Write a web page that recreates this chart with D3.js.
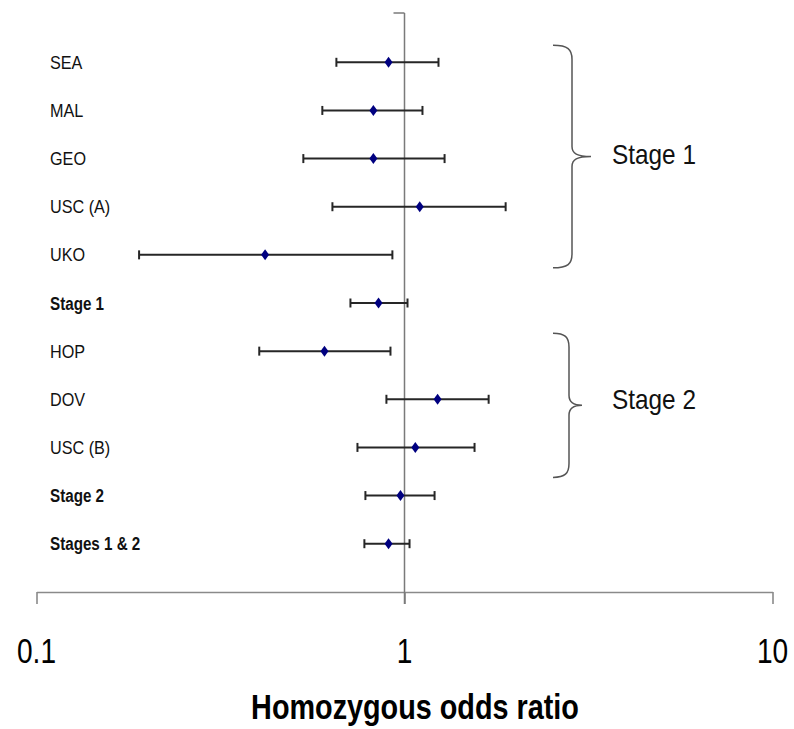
<!DOCTYPE html>
<html>
<head>
<meta charset="utf-8">
<script src="https://cdn.jsdelivr.net/npm/d3@7"></script>
<style>
  body { margin: 0; background: #fff; }
  svg { display: block; }
</style>
</head>
<body>
<script>
// forest plot data
const studies = ["SEA", "MAL", "GEO", "USC (A)", "UKO", "Stage 1", "HOP", "DOV", "USC (B)", "Stage 2", "Stages 1 & 2"];
const oddsRatio = [0.905, 0.823, 0.823, 1.10, 0.418, 0.850, 0.606, 1.23, 1.07, 0.975, 0.905];
const lowerCI = [0.653, 0.598, 0.531, 0.637, 0.190, 0.713, 0.403, 0.893, 0.745, 0.783, 0.778];
const upperCI = [1.237, 1.119, 1.285, 1.883, 0.927, 1.019, 0.916, 1.693, 1.550, 1.207, 1.032];
const pooled = ["Stage 1", "Stage 2", "Stages 1 & 2"];
const xTicks = [0.1, 1, 10];
const groupNames = ["Stage 1", "Stage 2"];
const groupFirst = ["SEA", "HOP"];
const groupLast = ["UKO", "USC (B)"];

const w = 794, h = 729;

const svg = d3.select("body")
  .append("svg")
  .attr("width", w)
  .attr("height", h);

// scales
const xScale = d3.scaleLog()
  .domain([0.1, 10])
  .range([36.5, 772.5]);

const yScale = d3.scalePoint()
  .domain(studies)
  .range([62.3, 543.7]);

const rows = studies.map((s, i) => ({name: s, or: oddsRatio[i], lo: lowerCI[i], hi: upperCI[i]}));

//* x axis, ticks pointing down
const axisY = 592;
const xAxis = d3.axisBottom(xScale)
  .tickValues(xTicks)
  .tickSize(12)
  .tickSizeOuter(0)
  .tickFormat("");

const gx = svg.append("g")
  .attr("transform", "translate(0," + axisY + ")")
  .call(xAxis);
gx.select(".domain").attr("stroke", "#8a8a8a").attr("stroke-width", 1.6);
gx.selectAll(".tick line").attr("stroke", "#8a8a8a").attr("stroke-width", 1.6);

// tick labels (condensed look)
svg.selectAll(".xlab")
  .data(xTicks)
  .enter()
  .append("text")
  .attr("class", "xlab")
  .attr("transform", d => "translate(" + xScale(d) + ",663) scale(0.78,1)")
  .attr("text-anchor", "middle")
  .style("font-family", "Liberation Sans, Arial, sans-serif")
  .style("font-size", "36px")
  .attr("fill", "#000")
  .text(d => d);

svg.append("text")
  .attr("transform", "translate(415,719) scale(0.8,1)")
  .attr("text-anchor", "middle")
  .style("font-family", "Liberation Sans, Arial, sans-serif")
  .style("font-size", "36px")
  .style("font-weight", "bold")
  .text("Homozygous odds ratio");

//* reference line at OR = 1
const x1 = xScale(1);
svg.append("line")
  .attr("x1", x1).attr("x2", x1)
  .attr("y1", 13).attr("y2", axisY + 12)
  .attr("stroke", "#7a7a7a")
  .attr("stroke-width", 1.5);
svg.append("line")
  .attr("x1", x1 - 11).attr("x2", x1)
  .attr("y1", 13).attr("y2", 13)
  .attr("stroke", "#7a7a7a")
  .attr("stroke-width", 1.5);

//* row labels
svg.selectAll(".rowlab")
  .data(rows)
  .enter()
  .append("text")
  .attr("class", "rowlab")
  .attr("transform", d => {
    const bold = pooled.includes(d.name);
    return "translate(50," + (yScale(d.name) + 6.5) + ") scale(" + (bold ? 0.8 : 0.9) + ",1)";
  })
  .style("font-family", "Liberation Sans, Arial, sans-serif")
  .style("font-size", d => pooled.includes(d.name) ? "19px" : "18px")
  .style("font-weight", d => pooled.includes(d.name) ? "bold" : "normal")
  .attr("fill", "#111")
  .text(d => d.name);

//* error bars
const bars = svg.selectAll(".ci")
  .data(rows)
  .enter()
  .append("g")
  .attr("class", "ci")
  .attr("stroke", "#262626")
  .attr("stroke-width", 2);

bars.append("line")
  .attr("x1", d => xScale(d.lo))
  .attr("x2", d => xScale(d.hi))
  .attr("y1", d => yScale(d.name))
  .attr("y2", d => yScale(d.name));
bars.append("line")
  .attr("x1", d => xScale(d.lo))
  .attr("x2", d => xScale(d.lo))
  .attr("y1", d => yScale(d.name) - 4.5)
  .attr("y2", d => yScale(d.name) + 4.5);
bars.append("line")
  .attr("x1", d => xScale(d.hi))
  .attr("x2", d => xScale(d.hi))
  .attr("y1", d => yScale(d.name) - 4.5)
  .attr("y2", d => yScale(d.name) + 4.5);

// diamonds
svg.selectAll(".pt")
  .data(rows)
  .enter()
  .append("path")
  .attr("class", "pt")
  .attr("d", d => {
    const cx = xScale(d.or), cy = yScale(d.name);
    return "M" + cx + "," + (cy - 5.5) + "L" + (cx + 4) + "," + cy + "L" + cx + "," + (cy + 5.5) + "L" + (cx - 4) + "," + cy + "Z";
  })
  .attr("fill", "#000080");

//* braces for the stages
const braceLayout = [
  {tip: 553, vert: 572, point: 591, padTop: 17, padBottom: 13, r: 14, textDy: 7},
  {tip: 553, vert: 569, point: 582, padTop: 18, padBottom: 30, r: 14, textDy: 4}
];

groupNames.forEach((g, i) => {
  const L = braceLayout[i];
  const top = yScale(groupFirst[i]) - L.padTop;
  const bottom = yScale(groupLast[i]) + L.padBottom;
  const mid = (top + bottom) / 2;
  const p = d3.path();
  p.moveTo(L.tip, top);
  p.bezierCurveTo(L.vert - 4, top, L.vert, top + 4, L.vert, top + L.r);
  p.lineTo(L.vert, mid - 10);
  p.bezierCurveTo(L.vert, mid - 3, L.vert + 5, mid, L.point, mid);
  p.bezierCurveTo(L.vert + 5, mid, L.vert, mid + 3, L.vert, mid + 10);
  p.lineTo(L.vert, bottom - L.r);
  p.bezierCurveTo(L.vert, bottom - 4, L.vert - 4, bottom, L.tip, bottom);
  svg.append("path")
    .attr("d", p.toString())
    .attr("fill", "none")
    .attr("stroke", "#555")
    .attr("stroke-width", 1.5);

  svg.append("text")
    .attr("transform", "translate(612," + (mid + L.textDy) + ") scale(0.87,1)")
    .style("font-family", "Liberation Sans, Arial, sans-serif")
    .style("font-size", "28px")
    .attr("fill", "#111")
    .text(g);
});
</script>
</body>
</html>
